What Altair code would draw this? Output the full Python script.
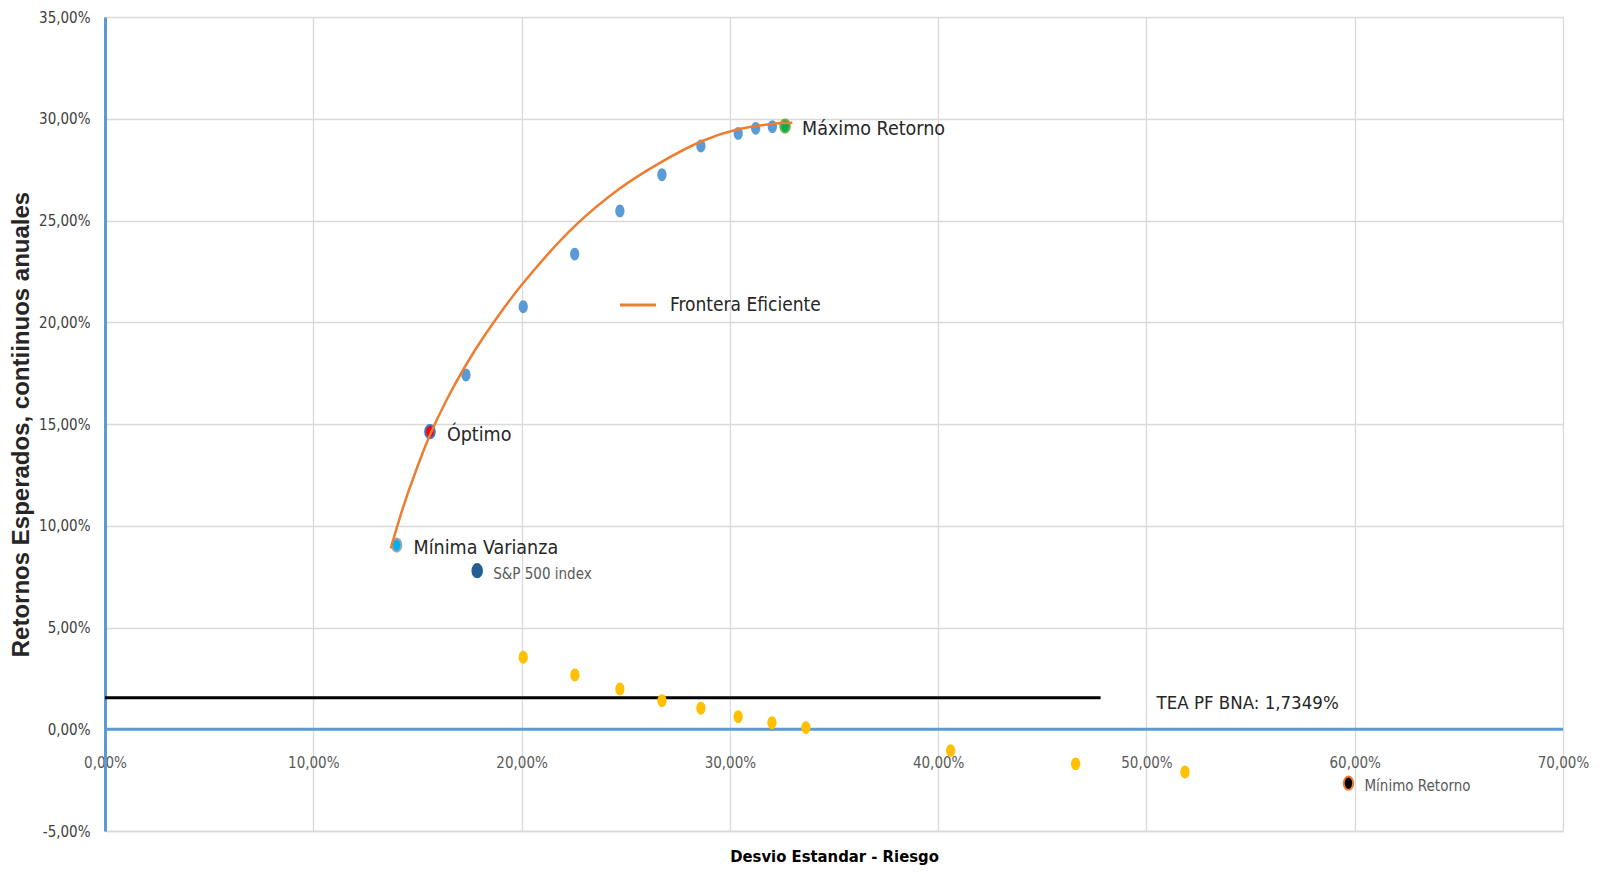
import altair as alt
import pandas as pd

FONT = "DejaVu Sans Condensed, DejaVu Sans, sans-serif"
ELLIPSE = "M -0.72 0 A 0.72 1 0 1 1 0.72 0 A 0.72 1 0 1 1 -0.72 0 Z"

# Efficient frontier portfolios (blue dots)
front_x = [17.33, 20.08, 22.55, 24.72, 26.74, 28.61, 30.40, 31.24, 32.04]
front_y = [17.41, 20.76, 23.35, 25.47, 27.25, 28.66, 29.28, 29.53, 29.61]

# Inefficient portfolios (yellow dots)
low_x = [20.08, 22.56, 24.72, 26.74, 28.61, 30.40, 32.02, 33.65, 40.60, 46.60, 51.85]
low_y = [3.54, 2.67, 1.98, 1.40, 1.03, 0.62, 0.32, 0.08, -1.05, -1.70, -2.10]

# Frontera Eficiente curve
curve_x = [13.72, 14.32, 15.00, 15.60, 16.40, 17.30, 18.20, 20.00, 22.60, 24.70, 26.60, 28.70, 30.30, 31.90, 33.00]
curve_y = [8.89, 10.93, 12.90, 14.46, 16.18, 17.85, 19.31, 21.83, 24.77, 26.56, 27.81, 28.92, 29.46, 29.73, 29.80]

# Highlighted portfolios
special_names = ["Máximo Retorno", "Óptimo", "Mínima Varianza", "S&P 500 index", "Mínimo Retorno"]
special_x = [32.65, 15.60, 14.00, 17.87, 59.70]
special_y = [29.64, 14.62, 9.05, 7.79, -2.65]
special_fill = ["#00B050", "#FF0000", "#00B0F0", "#255E91", "#000000"]
special_stroke = ["#70AD47", "#4472C4", "#A5A5A5", "#255E91", "#ED7D31"]
special_group = ["big", "big", "big", "small", "small"]

# TEA PF BNA reference line
tea_x = [0.0, 47.8]
tea_y = 1.55
tea_label = "TEA PF BNA: 1,7349%"

x_ticks = [0, 10, 20, 30, 40, 50, 60, 70]
y_ticks = [-5, 0, 5, 10, 15, 20, 25, 30, 35]

front_df = pd.DataFrame({"x": front_x, "y": front_y})
low_df = pd.DataFrame({"x": low_x, "y": low_y})
curve_df = pd.DataFrame({"x": curve_x, "y": curve_y, "serie": "Frontera Eficiente"})
spec_df = pd.DataFrame({"name": special_names, "x": special_x, "y": special_y,
                        "fill": special_fill, "stroke": special_stroke, "grp": special_group})
tea_df = pd.DataFrame({"x": [tea_x[0]], "x2": [tea_x[1]], "y": [tea_y], "label": [tea_label]})
zero_df = pd.DataFrame({"x": [x_ticks[0]], "x2": [x_ticks[-1]], "y": [0]})

lab = "replace(replace(format(datum.value, '.2f'), '.', ','), '\u2212', '-') + '%'"

xs = alt.Scale(domain=[0, 70], nice=False, zero=False)
ys = alt.Scale(domain=[-5, 35], nice=False, zero=False)

X = alt.X("x:Q", scale=xs, axis=alt.Axis(
    values=x_ticks, labelExpr=lab, title="Desvio Estandar - Riesgo",
    grid=True, gridColor="#D9D9D9", gridWidth=1.3, ticks=False,
    domainColor="#D9D9D9", domainWidth=1.3,
    labelFont=FONT, labelFontSize=15, labelColor="#595959", labelPadding=-76,
    labelFlush=False, labelOverlap=False,
    titleFont=FONT, titleFontSize=16.5, titleFontWeight="bold", titleColor="#000000",
    titleY=25, titleBaseline="middle"))
Y = alt.Y("y:Q", scale=ys, axis=alt.Axis(
    values=y_ticks, labelExpr=lab, title="Retornos Esperados, contiinuos anuales",
    grid=True, gridColor="#D9D9D9", gridWidth=1.3, ticks=False,
    domainColor="#5B9BD5", domainWidth=3,
    labelFont=FONT, labelFontSize=15, labelColor="#404040", labelPadding=15,
    labelFlush=False, labelOverlap=False,
    titleFont="Liberation Sans, Arial, sans-serif", titleFontSize=24, titleFontWeight="bold",
    titleColor="#262626", titleX=-84, titleY=407, titleAngle=270,
    titleAlign="center", titleBaseline="middle"))

zero_line = alt.Chart(zero_df).mark_rule(color="#5B9BD5", strokeWidth=3).encode(
    x=X, x2="x2:Q", y=Y)

tea_line = alt.Chart(tea_df).mark_rule(color="#000000", strokeWidth=3).encode(
    x="x:Q", x2="x2:Q", y="y:Q")
tea_text = alt.Chart(tea_df).mark_text(
    align="left", baseline="middle", dx=56, dy=5, font=FONT, fontSize=18.5, color="#262626"
).encode(x="x2:Q", y="y:Q", text="label:N")

front_pts = alt.Chart(front_df).mark_point(
    shape=ELLIPSE, filled=True, size=165, color="#5B9BD5", opacity=1).encode(x="x:Q", y="y:Q")
low_pts = alt.Chart(low_df).mark_point(
    shape=ELLIPSE, filled=True, size=165, color="#FFC000", opacity=1).encode(x="x:Q", y="y:Q")

curve = alt.Chart(curve_df).mark_line(strokeWidth=2.5, interpolate="catmull-rom").encode(
    x="x:Q", y="y:Q",
    color=alt.Color("serie:N", scale=alt.Scale(domain=["Frontera Eficiente"], range=["#ED7D31"]),
                    legend=alt.Legend(title=None, orient="none", legendX=513, legendY=268,
                                      symbolType="stroke", symbolStrokeWidth=3, symbolSize=1300,
                                      labelFont=FONT, labelFontSize=19, labelColor="#262626",
                                      labelOffset=12, labelLimit=500, padding=0)))

spec_pts = alt.Chart(spec_df).mark_point(
    shape=ELLIPSE, filled=True, size=175, strokeWidth=2, opacity=1).encode(
    x="x:Q", y="y:Q",
    fill=alt.Fill("fill:N", scale=None),
    stroke=alt.Stroke("stroke:N", scale=None))

big_text = alt.Chart(spec_df).transform_filter(alt.datum.grp == "big").mark_text(
    align="left", baseline="middle", dx=17, dy=3, font=FONT, fontSize=19.5, color="#262626"
).encode(x="x:Q", y="y:Q", text="name:N")
small_text = alt.Chart(spec_df).transform_filter(alt.datum.grp == "small").mark_text(
    align="left", baseline="middle", dx=16, dy=3, font=FONT, fontSize=15, color="#595959"
).encode(x="x:Q", y="y:Q", text="name:N")

chart = alt.layer(
    zero_line, tea_line, low_pts, front_pts, spec_pts, curve, big_text, small_text, tea_text
).properties(
    width=1458, height=814,
    autosize=alt.AutoSizeParams(type="none"),
    padding={"left": 97, "top": 9, "right": 28, "bottom": 34},
    background="#FFFFFF",
).configure_view(stroke=None)

chart.save("out.html", embed_options={"renderer": "svg", "actions": False})
